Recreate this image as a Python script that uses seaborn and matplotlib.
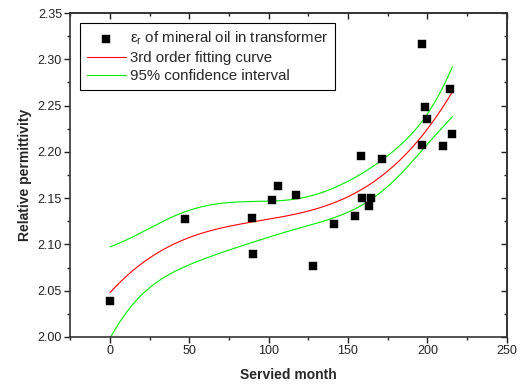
import numpy as np
import pandas as pd
import matplotlib
matplotlib.use("Agg")
import matplotlib.pyplot as plt
from matplotlib.ticker import MultipleLocator, FormatStrFormatter
import seaborn as sns

# ---- data ----
months = [0, 47.2, 89.2, 90.1, 102, 106, 117.1, 128, 141, 154.7, 157.9, 159,
          163, 164.8, 171.7, 196.9, 196.9, 198.8, 199.8, 209.7, 214.5, 215.8]
permittivity = [2.039, 2.128, 2.129, 2.090, 2.148, 2.163, 2.153, 2.077, 2.122,
                2.131, 2.195, 2.150, 2.1415, 2.150, 2.192, 2.317, 2.207, 2.2485,
                2.235, 2.206, 2.268, 2.219]
fit_order = 3
band_factor = 1.345  # half-width multiplier of the standard error, as drawn

x_label = "Servied month"
y_label = "Relative permittivity"
legend_labels = ["ε$_r$ of mineral oil in transformer",
                 "3rd order fitting curve",
                 "95% confidence interval"]

# ---- 3rd-order least squares fit with confidence band ----
x = np.asarray(months, float)
y = np.asarray(permittivity, float)
X = np.vander(x, fit_order + 1)
coef, *_ = np.linalg.lstsq(X, y, rcond=None)
resid = y - X @ coef
s2 = resid @ resid / (len(x) - (fit_order + 1))
cov = s2 * np.linalg.inv(X.T @ X)
xf = np.linspace(0, x.max(), 300)
Xf = np.vander(xf, fit_order + 1)
yf = Xf @ coef
se = np.sqrt(np.einsum("ij,jk,ik->i", Xf, cov, Xf))
fit_df = pd.DataFrame({"month": xf, "fit": yf,
                       "upper": yf + band_factor * se,
                       "lower": yf - band_factor * se})
pts_df = pd.DataFrame({"month": x, "eps": y})

# ---- style ----
sns.set_style("ticks")
plt.rcParams["font.family"] = ["Liberation Sans", "DejaVu Sans"]
plt.rcParams["mathtext.default"] = "regular"

fig = plt.figure(figsize=(5.23, 3.85), dpi=100)
ax = fig.add_axes([0.1344, 0.1247, 0.8344, 0.8415])

sns.lineplot(data=fit_df, x="month", y="fit", color="#ff0000", lw=0.8,
             ax=ax, label=legend_labels[1], zorder=2)
sns.lineplot(data=fit_df, x="month", y="upper", color="#00ee00", lw=0.8,
             ax=ax, label=legend_labels[2], zorder=2)
sns.lineplot(data=fit_df, x="month", y="lower", color="#00ee00", lw=0.8,
             ax=ax, zorder=2)
sns.scatterplot(data=pts_df, x="month", y="eps", marker="s", s=36,
                color="black", edgecolor="black", linewidth=0.3, ax=ax,
                label=legend_labels[0], zorder=3)

ax.set_xlim(-25, 250)
ax.set_ylim(2.00, 2.35)
ax.xaxis.set_major_locator(MultipleLocator(50))
ax.xaxis.set_minor_locator(MultipleLocator(25))
ax.yaxis.set_major_locator(MultipleLocator(0.05))
ax.yaxis.set_minor_locator(MultipleLocator(0.025))
ax.yaxis.set_major_formatter(FormatStrFormatter("%.2f"))

for sp in ax.spines.values():
    sp.set_visible(True)
    sp.set_linewidth(1.2)
    sp.set_color("#333333")

ax.tick_params(which="major", direction="out", length=4, width=1,
               labelsize=9, colors="#222222", pad=2)
ax.tick_params(which="minor", direction="out", length=2.5, width=1,
               colors="#222222")

# inward ticks on top and right
top = ax.secondary_xaxis("top")
top.xaxis.set_major_locator(MultipleLocator(50))
top.xaxis.set_minor_locator(MultipleLocator(25))
top.tick_params(which="major", direction="in", length=4, width=1,
                labeltop=False, colors="#222222")
top.tick_params(which="minor", direction="in", length=2.5, width=1,
                colors="#222222")
right = ax.secondary_yaxis("right")
right.yaxis.set_major_locator(MultipleLocator(0.05))
right.yaxis.set_minor_locator(MultipleLocator(0.025))
right.tick_params(which="major", direction="in", length=4, width=1,
                  labelright=False, colors="#222222")
right.tick_params(which="minor", direction="in", length=2.5, width=1,
                  colors="#222222")
for s in (top, right):
    for sp in s.spines.values():
        sp.set_linewidth(1.2)
        sp.set_color("#333333")

ax.set_xlabel(x_label, fontsize=10, fontweight="bold", labelpad=8)
ax.set_ylabel(y_label, fontsize=10, fontweight="bold", labelpad=4)

h, l = ax.get_legend_handles_labels()
order = [l.index(lab) for lab in legend_labels]
leg = ax.legend([h[i] for i in order], [l[i] for i in order],
                loc="upper left", bbox_to_anchor=(0.022, 0.970),
                borderaxespad=0, fontsize=10.8, frameon=True, fancybox=False,
                edgecolor="black", framealpha=1, handlelength=2.6,
                handletextpad=0.27, borderpad=0.45, labelspacing=0.28,
                scatterpoints=1, markerscale=0.85)
leg.get_frame().set_linewidth(0.8)

fig.savefig("out.png", dpi=100)
